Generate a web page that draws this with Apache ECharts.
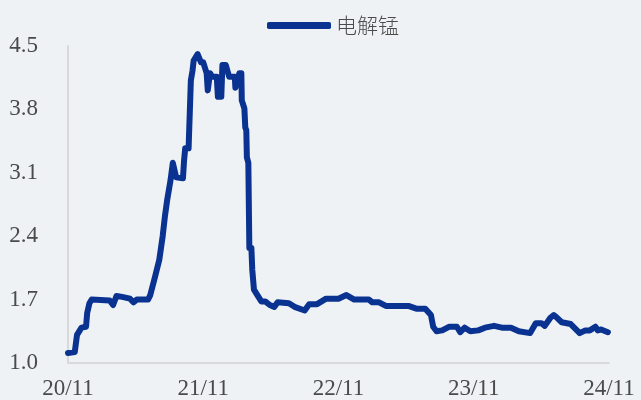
<!DOCTYPE html>
<html>
<head>
<meta charset="utf-8">
<script src="https://cdn.jsdelivr.net/npm/echarts@6/dist/echarts.min.js"></script>
<style>
  html, body { margin: 0; padding: 0; background: #eef2f4; }
  #chart { width: 641px; height: 400px; }
</style>
</head>
<body>
<div id="chart"></div>
<script>
// 横轴刻度标签（每年11月）
const tickLabels = ['20/11', '21/11', '22/11', '23/11', '24/11'];

// 距 2020/11 的月数
const months = [
    0.0, 0.6, 0.7, 0.8, 1.2, 1.6, 1.7, 1.9, 2.1, 3.7,
    4.0, 4.3, 4.8, 5.5, 5.8, 6.1, 7.1, 7.3, 7.7, 8.1,
    8.4, 8.6, 8.8, 9.1, 9.3, 9.6, 10.2, 10.3, 10.4, 10.7,
    10.9, 11.05, 11.15, 11.5, 11.8, 12.0, 12.3, 12.4, 12.6, 12.8,
    13.2, 13.3, 13.6, 13.7, 14.0, 14.3, 14.8, 14.85, 15.0, 15.2,
    15.38, 15.42, 15.65, 15.73, 15.82, 15.87, 16.0, 16.09, 16.27, 16.35,
    16.5, 16.8, 17.15, 17.5, 17.9, 18.3, 18.6, 19.6, 20.1, 21.0,
    21.4, 22.1, 22.9, 24.0, 24.7, 25.4, 26.7, 27.0, 27.6, 28.2,
    30.2, 30.9, 31.7, 32.2, 32.4, 32.7, 33.2, 33.8, 34.5, 34.8,
    35.2, 35.7, 36.4, 37.0, 37.8, 38.5, 39.3, 40.0, 41.0, 41.5,
    42.0, 42.3, 42.8, 43.1, 43.3, 43.8, 44.6, 45.4, 45.9, 46.3,
    46.8, 47.0, 47.3, 47.9
];

// 电解锰价格
const prices = [
    1.11, 1.12, 1.14, 1.31, 1.39, 1.40, 1.55, 1.66, 1.70, 1.69,
    1.64, 1.74, 1.73, 1.71, 1.67, 1.70, 1.70, 1.75, 1.94, 2.14,
    2.40, 2.62, 2.80, 3.02, 3.21, 3.05, 3.04, 3.24, 3.37, 3.37,
    4.12, 4.23, 4.34, 4.41, 4.32, 4.32, 4.20, 4.01, 4.20, 4.16,
    4.16, 3.94, 3.94, 4.29, 4.29, 4.16, 4.16, 4.04, 4.04, 4.20,
    4.20, 3.90, 3.81, 3.60, 3.57, 3.27, 3.21, 2.27, 2.27, 2.03,
    1.81, 1.75, 1.68, 1.68, 1.64, 1.62, 1.67, 1.66, 1.62, 1.58,
    1.65, 1.65, 1.71, 1.71, 1.75, 1.70, 1.70, 1.67, 1.67, 1.63,
    1.63, 1.60, 1.60, 1.53, 1.40, 1.35, 1.36, 1.40, 1.40, 1.34,
    1.39, 1.35, 1.36, 1.39, 1.41, 1.39, 1.39, 1.35, 1.33, 1.44,
    1.44, 1.41, 1.50, 1.53, 1.51, 1.45, 1.43, 1.33, 1.36, 1.36,
    1.40, 1.36, 1.37, 1.34
];

const chart = echarts.init(document.getElementById('chart'));

const labelFont = {
    fontFamily: '"Liberation Serif", "Noto Serif", serif',
    fontSize: 23,
    color: '#4a4a4a'
};

const option = {
    backgroundColor: '#eef2f4',
    animation: false,
    legend: {
        left: 262,
        top: 10,
        icon: 'roundRect',
        itemWidth: 64,
        itemHeight: 7,
        itemGap: 10,
        textStyle: {
            fontFamily: '"Noto Sans CJK SC", sans-serif',
            fontSize: 21,
            fontWeight: 300,
            color: '#4a4a4a'
        },
        data: ['电解锰']
    },
    grid: {
        left: 68,
        right: 32,
        top: 46,
        bottom: 37,
        containLabel: false
    },
    xAxis: {
        type: 'value',
        min: 0,
        max: 48,
        interval: 12,
        axisLine: { show: true, lineStyle: { color: '#d9d9d9', width: 2 } },
        axisTick: { show: false },
        splitLine: { show: false },
        axisLabel: Object.assign({
            margin: 14,
            formatter: v => tickLabels[Math.round(v / 12)]
        }, labelFont)
    },
    yAxis: {
        type: 'value',
        min: 1.0,
        max: 4.5,
        interval: 0.7,
        axisLine: { show: true, lineStyle: { color: '#d9d9d9', width: 2 } },
        axisTick: { show: false },
        splitLine: { show: false },
        axisLabel: Object.assign({
            margin: 30,
            formatter: v => v.toFixed(1)
        }, labelFont)
    },
    series: [
        {
            name: '电解锰',
            type: 'line',
            data: months.map((m, i) => [m, prices[i]]),
            showSymbol: false,
            itemStyle: { color: '#0a3391' },
            lineStyle: { color: '#0a3391', width: 6, cap: 'round', join: 'round' }
        }
    ]
};

chart.setOption(option);
</script>
</body>
</html>
